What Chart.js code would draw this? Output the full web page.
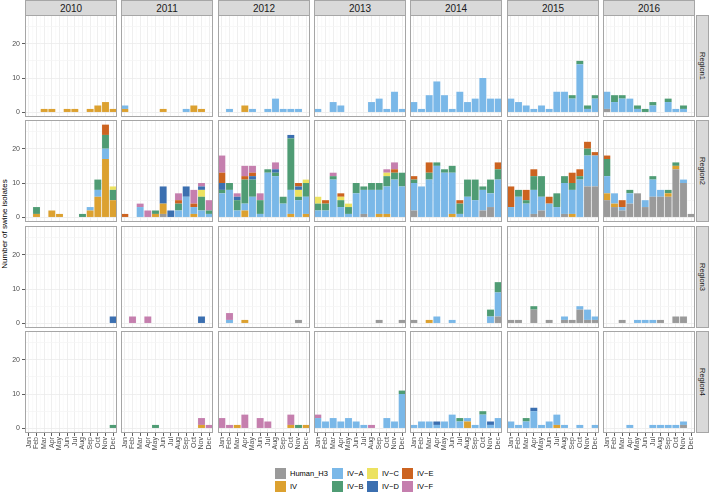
<!DOCTYPE html>
<html><head><meta charset="utf-8">
<script src="https://cdn.jsdelivr.net/npm/chart.js@4.4.1/dist/chart.umd.min.js"></script>
<style>
html,body{margin:0;padding:0;background:#fff}
body{position:relative;width:709px;height:494px;overflow:hidden;font-family:"Liberation Sans",Arial,Helvetica,sans-serif}
canvas{position:absolute}
.strip{position:absolute;box-sizing:border-box;background:#D9D9D9;border:1px solid #A6A6A6;color:#1A1A1A;display:flex;align-items:center;justify-content:center;font-size:10px}
.strip.side span{writing-mode:vertical-rl;font-size:7.5px}
.ytitle{position:absolute;left:4px;top:224px;transform:translate(-50%,-50%) rotate(-90deg);font-size:8px;white-space:nowrap;color:#000}
.leg{position:absolute;font-size:7.5px;color:#000;line-height:11px;white-space:nowrap}
.key{position:absolute;width:11px;height:11px}
</style></head><body>
<div class="ytitle">Number of swine isolates</div>
<script>
// ---------- categories ----------
const months = ['Jan','Feb','Mar','Apr','May','Jun','Jul','Aug','Sep','Oct','Nov','Dec'];
const years = ['2010','2011','2012','2013','2014','2015','2016'];
const regions = ['Region1','Region2','Region3','Region4'];
const lineages = ['Human_H3','IV','IV-A','IV-B','IV-C','IV-D','IV-E','IV-F'];
const yTickValues = [0,5,10,15,20,25];
const yLabelled = [0,10,20];

// ---------- values: 12 months per year, years 2010..2016 ----------
// Region1
const R1_H3 = [
 0,0,0,0,0,0,0,0,0,0,0,0,
 0,0,0,0,0,0,0,0,0,0,0,0,
 0,0,0,0,0,0,0,0,0,0,0,0,
 0,0,0,0,0,0,0,0,0,0,0,0,
 0,0,0,0,0,0,0,0,0,0,0,0,
 0,0,0,0,0,0,0,0,0,0,0,0,
 1,0,0,0,0,0,0,0,0,0,0,0];
const R1_IV = [
 0,0,1,1,0,1,1,0,1,2,3,1,
 1,0,0,0,0,1,0,0,0,2,1,0,
 0,0,0,2,0,0,0,0,0,0,0,0,
 0,0,0,0,0,0,0,0,0,0,0,0,
 0,0,0,0,0,0,0,0,0,0,0,0,
 0,0,0,0,0,0,0,0,0,0,0,0,
 0,0,0,0,0,0,0,0,0,0,0,0];
const R1_IVA = [
 0,0,0,0,0,0,0,0,0,0,0,0,
 1,0,0,0,0,0,0,0,1,0,0,0,
 0,1,0,0,1,0,1,4,1,1,1,0,
 1,0,3,2,0,0,0,3,4,1,6,1,
 3,1,5,9,5,1,6,3,4,10,4,4,
 4,3,2,1,2,1,6,6,4,14,1,4,
 5,3,4,4,1,0,2,0,3,1,1,0];
const R1_IVB = [
 0,0,0,0,0,0,0,0,0,0,0,0,
 0,0,0,0,0,0,0,0,0,0,0,0,
 0,0,0,0,0,0,0,0,0,0,0,0,
 0,0,0,0,0,0,0,0,0,0,0,0,
 0,0,0,0,0,0,0,0,0,0,0,0,
 0,0,0,0,0,0,0,0,1,1,1,1,
 0,2,1,0,1,1,1,0,1,0,1,0];

// Region2
const R2_H3 = [
 0,0,0,0,0,0,0,0,0,0,0,0,
 0,0,0,0,0,1,0,0,0,0,0,0,
 0,0,0,0,0,0,0,0,0,0,0,0,
 0,0,0,0,0,0,1,0,0,0,0,0,
 2,0,0,0,0,0,0,0,0,2,3,0,
 0,0,0,1,2,0,0,1,0,0,9,9,
 5,3,2,4,7,3,6,6,6,14,10,1];
const R2_IV = [
 0,1,0,2,1,0,0,0,2,6,17,5,
 0,0,0,0,1,3,0,0,0,1,0,0,
 0,0,0,2,0,0,0,0,0,1,0,1,
 0,0,0,0,0,0,0,0,1,1,0,0,
 0,0,0,0,0,1,0,0,0,0,0,0,
 0,0,0,0,0,0,0,0,1,0,0,0,
 2,1,0,0,0,0,0,0,1,1,0,0];
const R2_IVA = [
 0,0,0,0,0,0,0,0,1,2,3,0,
 0,0,3,0,0,0,0,2,6,2,2,1,
 7,8,2,2,6,1,13,12,4,7,5,5,
 2,2,11,3,1,7,7,8,7,8,11,9,
 8,9,11,15,13,12,1,6,5,6,4,11,
 3,6,4,7,4,4,3,9,7,11,9,9,
 5,3,1,3,0,2,5,2,0,0,1,0];
const R2_IVB = [
 0,2,0,0,0,0,0,1,0,3,4,3,
 0,0,0,0,1,0,0,2,0,0,4,1,
 1,2,3,7,5,4,1,1,2,15,1,4,
 2,2,1,2,2,3,1,2,2,3,2,4,
 1,0,2,1,1,2,3,5,6,1,4,3,
 0,2,1,4,6,0,4,2,2,1,2,0,
 5,0,0,1,0,0,1,0,1,1,0,0];
const R2_IVC = [
 0,0,0,0,0,0,0,0,0,0,0,1,
 0,0,0,0,0,0,0,0,0,0,2,0,
 0,0,0,0,0,0,0,0,0,0,2,1,
 2,0,0,1,1,0,0,0,0,1,0,0,
 0,0,0,0,0,0,0,0,0,0,0,0,
 0,0,0,0,0,0,0,0,0,0,0,0,
 0,0,0,0,0,0,0,0,0,0,0,0];
const R2_IVD = [
 0,0,0,0,0,0,0,0,0,0,0,0,
 0,0,0,0,0,5,2,0,3,0,1,0,
 2,0,1,0,1,0,0,1,0,1,1,0,
 0,0,0,0,0,0,0,0,0,0,0,0,
 0,0,0,0,0,0,0,0,0,0,0,0,
 0,0,0,0,0,0,0,0,0,0,0,0,
 0,0,0,0,0,0,0,0,0,0,0,0];
const R2_IVE = [
 0,0,0,0,0,0,0,0,0,0,3,0,
 1,0,0,0,0,0,0,1,0,1,0,0,
 3,0,0,1,1,0,0,0,0,0,1,0,
 0,1,0,1,0,0,0,0,0,0,1,0,
 1,0,3,0,0,0,1,0,0,0,0,2,
 6,0,3,2,0,2,0,0,3,2,2,1,
 1,0,2,0,0,0,0,0,0,0,0,0];
const R2_IVF = [
 0,0,0,0,0,0,0,0,0,0,0,0,
 0,0,1,2,0,0,0,2,0,4,1,3,
 5,0,1,3,2,2,0,2,0,0,0,0,
 0,0,1,0,0,0,0,0,0,1,2,0,
 0,0,0,0,0,0,0,0,0,0,0,0,
 0,0,0,0,0,0,0,0,0,0,0,0,
 0,0,0,0,0,0,0,0,0,0,0,0];

// Region3
const R3_H3 = [
 0,0,0,0,0,0,0,0,0,0,0,0,
 0,0,0,0,0,0,0,0,0,0,0,0,
 0,0,0,0,0,0,0,0,0,0,1,0,
 0,0,0,0,0,0,0,0,1,0,0,1,
 1,0,0,0,0,0,0,0,0,0,0,2,
 1,1,0,4,0,1,0,1,1,4,1,1,
 0,0,1,0,0,0,0,1,0,2,2,0];
const R3_IV = [
 0,0,0,0,0,0,0,0,0,0,0,0,
 0,0,0,0,0,0,0,0,0,0,0,0,
 0,0,0,1,0,0,0,0,0,0,0,0,
 0,0,0,0,0,0,0,0,0,0,0,0,
 0,0,1,0,0,0,0,0,0,0,0,0,
 0,0,0,0,0,0,0,0,0,0,0,0,
 0,0,0,0,0,0,0,0,0,0,0,0];
const R3_IVA = [
 0,0,0,0,0,0,0,0,0,0,0,0,
 0,0,0,0,0,0,0,0,0,0,0,0,
 0,1,0,0,0,0,0,0,0,0,0,0,
 0,0,0,0,0,0,0,0,0,0,0,0,
 0,0,0,2,0,1,0,0,0,0,2,7,
 0,0,0,0,0,0,0,1,0,1,3,1,
 0,0,0,0,1,1,1,0,0,0,0,0];
const R3_IVB = [
 0,0,0,0,0,0,0,0,0,0,0,0,
 0,0,0,0,0,0,0,0,0,0,0,0,
 0,0,0,0,0,0,0,0,0,0,0,0,
 0,0,0,0,0,0,0,0,0,0,0,0,
 0,0,0,0,0,0,0,0,0,0,2,3,
 0,0,0,1,0,0,0,0,0,0,0,0,
 0,0,0,0,0,0,0,0,0,0,0,0];
const R3_IVD = [
 0,0,0,0,0,0,0,0,0,0,0,2,
 0,0,0,0,0,0,0,0,0,0,2,0,
 0,0,0,0,0,0,0,0,0,0,0,0,
 0,0,0,0,0,0,0,0,0,0,0,0,
 0,0,0,0,0,0,0,0,0,0,0,0,
 0,0,0,0,0,0,0,0,0,0,0,0,
 0,0,0,0,0,0,0,0,0,0,0,0];
const R3_IVF = [
 0,0,0,0,0,0,0,0,0,0,0,0,
 0,2,0,2,0,0,0,0,0,0,0,0,
 0,2,0,0,0,0,0,0,0,0,0,0,
 0,0,0,0,0,0,0,0,0,0,0,0,
 0,0,0,0,0,0,0,0,0,0,0,0,
 0,0,0,0,0,0,0,0,0,0,0,0,
 0,0,0,0,0,0,0,0,0,0,0,0];

// Region4
const R4_H3 = [
 0,0,0,0,0,0,0,0,0,0,0,0,
 0,0,0,0,0,0,0,0,0,0,0,0,
 0,0,0,0,0,0,0,0,0,0,0,0,
 0,0,0,0,0,0,0,0,0,0,0,0,
 0,0,0,0,0,0,0,0,0,0,0,0,
 0,0,0,0,0,0,0,0,0,0,0,0,
 0,0,0,0,0,0,0,0,0,0,1,0];
const R4_IV = [
 0,0,0,0,0,0,0,0,0,0,0,0,
 0,0,0,0,0,0,0,0,0,0,1,0,
 0,0,1,0,0,0,0,0,0,1,0,1,
 0,0,0,0,0,0,0,0,0,0,0,0,
 0,0,0,0,0,0,0,2,0,0,0,0,
 0,0,0,0,0,0,1,0,0,0,0,0,
 0,0,0,0,0,0,0,0,0,0,0,0];
const R4_IVA = [
 0,0,0,0,0,0,0,0,0,0,0,0,
 0,0,0,0,0,0,0,0,0,0,0,0,
 0,0,0,0,0,0,0,0,0,0,0,0,
 3,2,3,2,3,2,1,0,0,3,2,10,
 1,2,2,1,2,4,2,1,1,4,1,3,
 2,1,2,5,1,2,3,1,0,1,0,1,
 0,0,0,1,0,0,1,1,1,1,1,0];
const R4_IVB = [
 0,0,0,0,0,0,0,0,0,0,0,1,
 0,0,0,0,1,0,0,0,0,0,0,0,
 0,0,0,0,0,0,0,0,0,0,1,0,
 0,0,0,0,0,0,0,0,0,0,0,1,
 0,0,0,0,0,0,1,0,0,1,0,0,
 0,0,1,0,0,0,0,0,0,0,0,0,
 0,0,0,0,0,0,0,0,0,0,0,0];
const R4_IVD = [
 0,0,0,0,0,0,0,0,0,0,0,0,
 0,0,0,0,0,0,0,0,0,0,0,0,
 0,0,0,0,0,0,0,0,0,0,0,0,
 0,0,0,0,0,0,0,0,0,0,0,0,
 0,0,0,1,0,0,0,0,0,0,1,0,
 0,0,0,1,0,0,0,0,0,0,0,0,
 0,0,0,0,0,0,0,0,0,0,0,0];
const R4_IVF = [
 0,0,0,0,0,0,0,0,0,0,0,0,
 0,0,0,0,0,0,0,0,0,0,2,1,
 3,1,0,4,0,3,2,0,0,3,0,0,
 1,0,0,0,0,0,0,1,0,0,0,0,
 0,0,0,0,0,0,0,0,0,0,0,0,
 0,0,0,0,0,0,0,0,0,0,0,0,
 0,0,0,0,0,0,0,0,0,0,0,0];

// series present per region: [lineage, values]
const regionSeries = [
 [['Human_H3',R1_H3],['IV',R1_IV],['IV-A',R1_IVA],['IV-B',R1_IVB]],
 [['Human_H3',R2_H3],['IV',R2_IV],['IV-A',R2_IVA],['IV-B',R2_IVB],['IV-C',R2_IVC],['IV-D',R2_IVD],['IV-E',R2_IVE],['IV-F',R2_IVF]],
 [['Human_H3',R3_H3],['IV',R3_IV],['IV-A',R3_IVA],['IV-B',R3_IVB],['IV-D',R3_IVD],['IV-F',R3_IVF]],
 [['Human_H3',R4_H3],['IV',R4_IV],['IV-A',R4_IVA],['IV-B',R4_IVB],['IV-D',R4_IVD],['IV-F',R4_IVF]]
];

// ---------- styles / layout ----------
const lineageColors = {
 'Human_H3':'#9A9A9A','IV':'#DCA130','IV-A':'#7AB8E8','IV-B':'#4F9C74',
 'IV-C':'#ECE260','IV-D':'#3B6FB0','IV-E':'#CC6320','IV-F':'#C57FAE'
};
const colLeft = [25,121,218,314,410,507,603];
const rowTop = [15,120,226,331];
const PW = 92, PH = 102, YAX = 25, XAX = 34;
const BORDER = '#A6A6A6';
const disp = s => s.replace('-', '\u2212');

const deco = {
  id: 'deco',
  beforeDatasetsDraw(chart) {
    const {ctx, chartArea: a, scales: {x}} = chart;
    ctx.save();
    ctx.strokeStyle = '#F4F4F4';
    ctx.lineWidth = 0.5;
    for (let i = 0; i < 11; i++) {
      const px = (x.getPixelForTick(i) + x.getPixelForTick(i + 1)) / 2;
      ctx.beginPath(); ctx.moveTo(px, a.top); ctx.lineTo(px, a.bottom); ctx.stroke();
    }
    ctx.restore();
  },
  afterDraw(chart) {
    const {ctx, chartArea: a} = chart;
    ctx.save();
    ctx.strokeStyle = BORDER;
    ctx.lineWidth = 1;
    ctx.strokeRect(a.left + 0.5, a.top + 0.5, a.right - a.left - 1, a.bottom - a.top - 1);
    ctx.restore();
  }
};

// top strips
years.forEach((yr, c) => {
  const d = document.createElement('div');
  d.className = 'strip';
  d.style.cssText = `left:${colLeft[c]}px;top:0px;width:${PW}px;height:16px;`;
  d.textContent = yr;
  document.body.appendChild(d);
});
// right strips
regions.forEach((rg, r) => {
  const d = document.createElement('div');
  d.className = 'strip side';
  d.style.cssText = `left:696px;top:${rowTop[r]}px;width:13px;height:${PH}px;`;
  const s = document.createElement('span'); s.textContent = rg; d.appendChild(s);
  document.body.appendChild(d);
});

// panels
regions.forEach((rg, r) => {
  years.forEach((yr, c) => {
    const isLeft = c === 0, isBottom = r === regions.length - 1;
    const left = isLeft ? colLeft[0] - YAX : colLeft[c];
    const w = PW + (isLeft ? YAX : 0);
    const h = PH + (isBottom ? XAX : 0);
    const cv = document.createElement('canvas');
    cv.width = w; cv.height = h;
    cv.style.cssText = `left:${left}px;top:${rowTop[r]}px;width:${w}px;height:${h}px;`;
    document.body.appendChild(cv);
    const datasets = regionSeries[r].map(([name, vals]) => ({
      label: name,
      data: vals.slice(c * 12, c * 12 + 12),
      backgroundColor: lineageColors[name],
      borderWidth: 0,
      barPercentage: 0.9,
      categoryPercentage: 1.0,
      stack: 's'
    }));
    new Chart(cv, {
      type: 'bar',
      data: { labels: months, datasets },
      plugins: [deco],
      options: {
        responsive: false, animation: false, devicePixelRatio: 1,
        layout: { padding: 0 },
        plugins: { legend: { display: false }, tooltip: { enabled: false } },
        scales: {
          x: {
            type: 'category', offset: true, stacked: true,
            grid: { offset: false, color: '#EBEBEB', lineWidth: 0.8, drawTicks: isBottom, tickLength: 3, tickColor: '#333333' },
            border: { display: false },
            ticks: { display: isBottom, minRotation: 90, maxRotation: 90, autoSkip: false, padding: 1,
                     color: '#4D4D4D', font: { size: 7, family: '"Liberation Sans", Arial, sans-serif' } },
            afterFit: s => { s.height = isBottom ? XAX : 0; s.paddingLeft = 0; s.paddingRight = 0; s.paddingTop = 0; s.paddingBottom = 0; }
          },
          y: {
            type: 'linear', min: -1.35, max: 28.35, stacked: true,
            afterBuildTicks: s => { s.ticks = yTickValues.map(v => ({ value: v })); },
            grid: {
              color: ctx => yLabelled.includes(ctx.tick && ctx.tick.value) ? '#EBEBEB' : '#F5F5F5',
              lineWidth: 0.8, drawTicks: isLeft, tickLength: 3,
              tickColor: ctx => yLabelled.includes(ctx.tick && ctx.tick.value) ? '#333333' : 'rgba(0,0,0,0)'
            },
            border: { display: false },
            ticks: { display: isLeft, padding: 2, color: '#4D4D4D',
                     font: { size: 7, family: '"Liberation Sans", Arial, sans-serif' },
                     callback: v => yLabelled.includes(v) ? String(v) : '' },
            afterFit: s => { s.width = isLeft ? YAX : 0; s.paddingLeft = 0; s.paddingRight = 0; s.paddingTop = 0; s.paddingBottom = 0; }
          }
        }
      }
    });
  });
});

// legend
const legX = [275, 332, 367, 402], legY = [468, 481];
lineages.forEach((name, k) => {
  const cx = legX[Math.floor(k / 2)], cy = legY[k % 2];
  const key = document.createElement('div');
  key.className = 'key';
  key.style.cssText = `left:${cx}px;top:${cy}px;background:${lineageColors[name]};`;
  document.body.appendChild(key);
  const t = document.createElement('div');
  t.className = 'leg';
  t.style.cssText = `left:${cx + 15}px;top:${cy}px;`;
  t.textContent = disp(name);
  document.body.appendChild(t);
});
</script></body></html>
